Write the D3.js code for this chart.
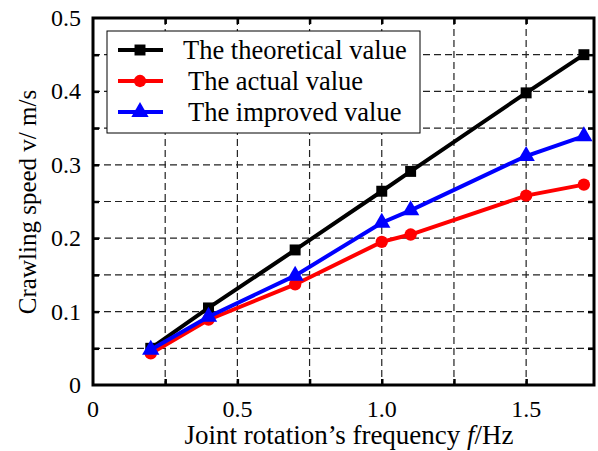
<!DOCTYPE html>
<html>
<head>
<meta charset="utf-8">
<script src="https://cdn.jsdelivr.net/npm/d3@7"></script>
<style>
  body { margin: 0; background: #fff; }
</style>
</head>
<body>
<div id="root"></div>
<script>
// data
var freq = [0.2, 0.4, 0.7, 1.0, 1.1, 1.5, 1.7]
var theoretical = [0.050, 0.105, 0.184, 0.264, 0.291, 0.398, 0.450]
var actual = [0.043, 0.089, 0.137, 0.195, 0.205, 0.258, 0.273]
var improved = [0.048, 0.093, 0.149, 0.221, 0.238, 0.312, 0.339]
var seriesNames = ["The theoretical value", "The actual value", "The improved value"]
var xTickLabels = ["0", "0.5", "1.0", "1.5"]
var yTickLabels = ["0", "0.1", "0.2", "0.3", "0.4", "0.5"]

var W = 598, H = 451
var margin = {top: 18, right: 4, bottom: 66, left: 93}
var width = W - margin.left - margin.right
var height = H - margin.top - margin.bottom
var serif = "'Liberation Serif', 'Times New Roman', serif"

var svg = d3.select("#root")
  .append("svg")
  .attr("width", W)
  .attr("height", H)
  .attr("font-family", serif)

var g = svg.append("g")
  .attr("transform", "translate(" + margin.left + "," + margin.top + ")")

var x = d3.scaleLinear().domain([0, 1.735]).range([0, width])
var y = d3.scaleLinear().domain([0, 0.5]).range([height, 0])

var xGrid = d3.range(0.25, 1.6, 0.25)
var yGrid = d3.range(0.05, 0.46, 0.05)

// dashed grid
g.selectAll(".vgrid").data(xGrid).enter().append("line")
  .attr("x1", function(d){ return x(d) }).attr("x2", function(d){ return x(d) })
  .attr("y1", 0).attr("y2", height)
  .attr("stroke", "#222").attr("stroke-width", 1.2).attr("stroke-dasharray", "7,4")
g.selectAll(".hgrid").data(yGrid).enter().append("line")
  .attr("x1", 0).attr("x2", width)
  .attr("y1", function(d){ return y(d) }).attr("y2", function(d){ return y(d) })
  .attr("stroke", "#222").attr("stroke-width", 1.2).attr("stroke-dasharray", "7,4")

// axes with inward ticks, labels added separately
var tickLen = 6
g.append("g").attr("transform", "translate(0," + height + ")")
  .call(d3.axisBottom(x).tickValues(xGrid).tickSize(-tickLen).tickFormat(""))
g.append("g")
  .call(d3.axisTop(x).tickValues(xGrid).tickSize(-tickLen).tickFormat(""))
g.append("g")
  .call(d3.axisLeft(y).tickValues(yGrid).tickSize(-tickLen).tickFormat(""))
g.append("g").attr("transform", "translate(" + width + ",0)")
  .call(d3.axisRight(y).tickValues(yGrid).tickSize(-tickLen).tickFormat(""))
g.selectAll(".domain").remove()
g.selectAll(".tick line").attr("stroke", "#000").attr("stroke-width", 2.5)

// tick labels
g.selectAll(".xlab").data(xTickLabels).enter().append("text")
  .attr("x", function(d){ return x(+d) })
  .attr("y", height + 32)
  .attr("text-anchor", "middle")
  .attr("font-family", serif)
  .attr("font-size", 24)
  .text(function(d){ return d })
g.selectAll(".ylab").data(yTickLabels).enter().append("text")
  .attr("x", -12)
  .attr("y", function(d){ return y(+d) + 8 })
  .attr("text-anchor", "end")
  .attr("font-family", serif)
  .attr("font-size", 24)
  .text(function(d){ return d })

// lines and markers
var line = d3.line()
  .x(function(d){ return x(d[0]) })
  .y(function(d){ return y(d[1]) })

var series = [
  {vals: theoretical, color: "#000", shape: d3.symbolSquare, size: 120},
  {vals: actual, color: "#ff0000", shape: d3.symbolCircle, size: 120},
  {vals: improved, color: "#0000ff", shape: d3.symbolTriangle, size: 130}
]

series.forEach(function(s){
  var pts = freq.map(function(f, i){ return [f, s.vals[i]] })
  g.append("path")
    .datum(pts)
    .attr("d", line)
    .attr("fill", "none")
    .attr("stroke", s.color)
    .attr("stroke-width", 4)
  g.selectAll(null).data(pts).enter().append("path")
    .attr("transform", function(d){ return "translate(" + x(d[0]) + "," + y(d[1]) + ")" })
    .attr("d", d3.symbol().type(s.shape).size(s.size))
    .attr("fill", s.color)
})

// frame
g.append("rect")
  .attr("x", 0).attr("y", 0)
  .attr("width", width).attr("height", height)
  .attr("fill", "none").attr("stroke", "#000").attr("stroke-width", 3)

// legend
var lx = 107 - margin.left, ly = 31 - margin.top
var legend = g.append("g")
legend.append("rect")
  .attr("x", lx).attr("y", ly)
  .attr("width", 313).attr("height", 102)
  .attr("fill", "#fff").attr("stroke", "#000").attr("stroke-width", 1)
series.forEach(function(s, i){
  var cy = ly + 19 + i * 31
  legend.append("line")
    .attr("x1", lx + 11).attr("x2", lx + 56)
    .attr("y1", cy).attr("y2", cy)
    .attr("stroke", s.color).attr("stroke-width", 4)
  legend.append("path")
    .attr("transform", "translate(" + (lx + 33) + "," + cy + ")")
    .attr("d", d3.symbol().type(s.shape).size(s.size))
    .attr("fill", s.color)
  legend.append("text")
    .attr("x", lx + 76 + (i === 0 ? 0 : 5))
    .attr("y", cy + 9)
    .attr("font-family", serif)
    .attr("font-size", 26.5)
    .text(seriesNames[i])
})

// axis titles
var xt = svg.append("text")
  .attr("x", 349).attr("y", 444)
  .attr("text-anchor", "middle")
  .attr("font-family", serif)
  .attr("font-size", 27)
xt.append("tspan").text("Joint rotation\u2019s frequency ")
xt.append("tspan").attr("font-style", "italic").text("f")
xt.append("tspan").text("/Hz")

var yt = svg.append("text")
  .attr("transform", "translate(36,202) rotate(-90)")
  .attr("text-anchor", "middle")
  .attr("font-family", serif)
  .attr("font-size", 25)
  .text("Crawling speed v/ m/s")
</script>
</body>
</html>
